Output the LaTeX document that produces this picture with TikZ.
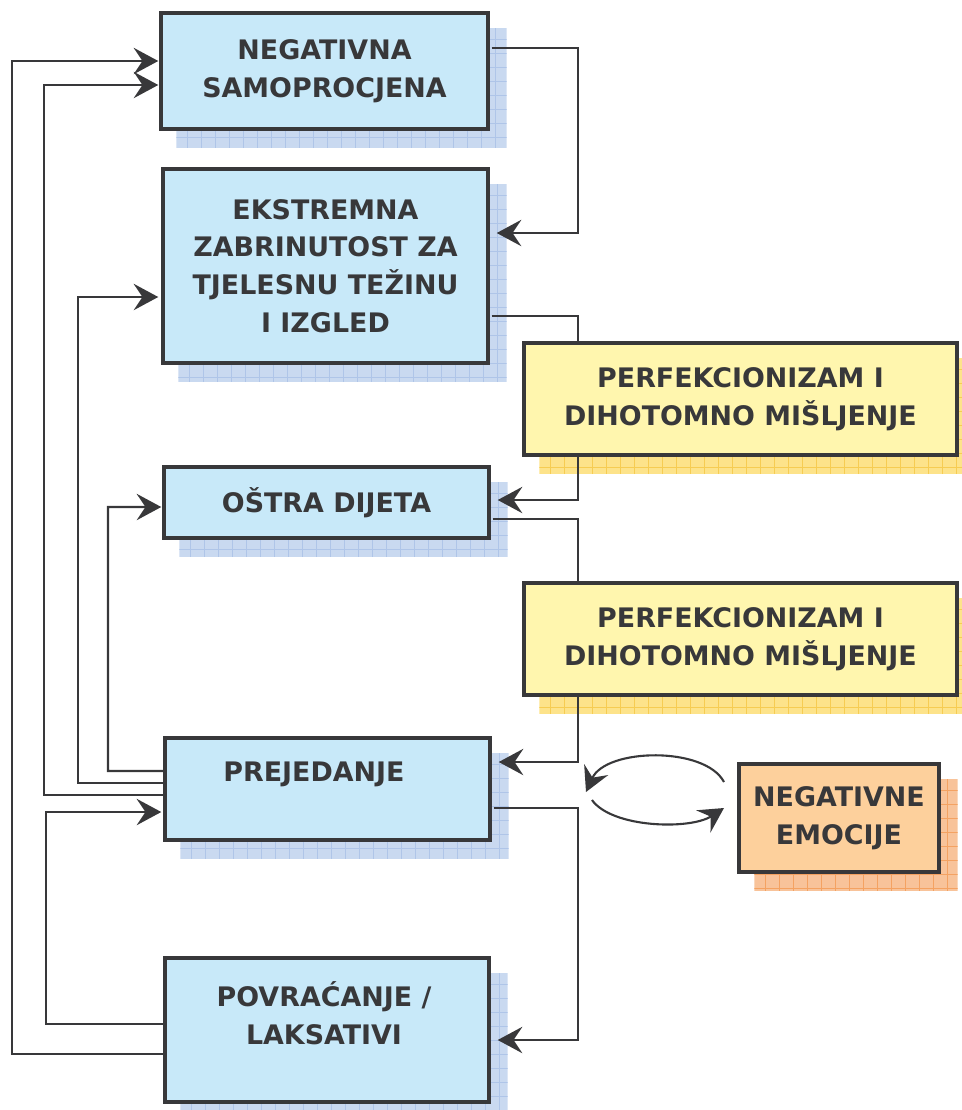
\documentclass[tikz,border=0pt]{standalone}
\usepackage{fontspec}
\setmainfont{DejaVu Sans}
\usetikzlibrary{arrows.meta,calc}
\definecolor{ink}{HTML}{38383A}
\definecolor{bluebox}{HTML}{C8E9F9}
\definecolor{blueshade}{HTML}{C9D9F0}
\definecolor{bluegrid}{HTML}{AFC5E8}
\definecolor{yellowbox}{HTML}{FFF6AE}
\definecolor{yellowshade}{HTML}{FDE38A}
\definecolor{yellowgrid}{HTML}{F6CC52}
\definecolor{orangebox}{HTML}{FDD09C}
\definecolor{orangeshade}{HTML}{F8C39A}
\definecolor{orangegrid}{HTML}{F4A262}
\pgfdeclarelayer{shade}
\pgfdeclarelayer{wires}
\pgfsetlayers{shade,wires,main}
\newcommand{\gridshade}[3]{%
	\begin{scope}
		\clip ([shift={(17,17)}]#1.north west) rectangle ([shift={(17,17)}]#1.south east);
		\fill [color=#2] ([shift={(17,17)}]#1.north west) rectangle ([shift={(17,17)}]#1.south east);
		\foreach \k in {0,14,...,476} {
			\draw [color=#3, line width=0.5pt] ([shift={(\k,0)}]#1.north west) -- ++(0,300);
			\draw [color=#3, line width=0.5pt] ([shift={(0,\k)}]#1.north west) -- ++(620,0);
		}
	\end{scope}}
\begin{document}
\begin{tikzpicture}[x=0.02cm, y=-0.02cm,
	box/.style={draw=ink, line width=2pt, fill=bluebox, align=center, text=ink,
		font=\fontsize{15.3}{21.5}\selectfont\bfseries, inner sep=0pt},
	wire/.style={draw=ink, line width=1.2pt},
	tip/.style={-{Stealth[length=14pt,width=15pt,inset=5pt]}}]
	\useasboundingbox (0,0) rectangle (962,1110);
	\node[box, minimum width=6.54cm, minimum height=2.32cm] (samo) at (324.5,71) {NEGATIVNA\\SAMOPROCJENA};
	\node[box, minimum width=6.5cm, minimum height=3.88cm] (ekst) at (325.5,266) {EKSTREMNA\\ZABRINUTOST ZA\\TJELESNU TEŽINU\\I IZGLED};
	\node[box, fill=yellowbox, minimum width=8.66cm, minimum height=2.24cm] (perfa) at (740.5,399) {PERFEKCIONIZAM I\\DIHOTOMNO MIŠLJENJE};
	\node[box, minimum width=6.5cm, minimum height=1.42cm] (dijeta) at (326.5,502.5) {OŠTRA DIJETA};
	\node[box, fill=yellowbox, minimum width=8.66cm, minimum height=2.24cm] (perfb) at (740.5,639) {PERFEKCIONIZAM I\\DIHOTOMNO MIŠLJENJE};
	\node[box, minimum width=6.5cm, minimum height=2.04cm] (prej) at (327.5,789) {};
	\node[box, draw=none, fill=none] (prejtxt) at (314,774) {PREJEDANJE};
	\node[box, fill=orangebox, minimum width=4cm, minimum height=2.16cm] (emoc) at (839,818) {NEGATIVNE\\EMOCIJE};
	\node[box, minimum width=6.48cm, minimum height=2.88cm] (povr) at (327,1030) {};
	\node[box, draw=none, fill=none] (povrtxt) at (324,1013) {POVRAĆANJE /\\LAKSATIVI};
	\begin{pgfonlayer}{shade}
		\gridshade{samo}{blueshade}{bluegrid}
		\gridshade{ekst}{blueshade}{bluegrid}
		\gridshade{dijeta}{blueshade}{bluegrid}
		\gridshade{prej}{blueshade}{bluegrid}
		\gridshade{povr}{blueshade}{bluegrid}
		\gridshade{perfa}{yellowshade}{yellowgrid}
		\gridshade{perfb}{yellowshade}{yellowgrid}
		\gridshade{emoc}{orangeshade}{orangegrid}
	\end{pgfonlayer}
	\begin{pgfonlayer}{wires}
		\coordinate (rbus) at (578,0);
		\coordinate (inekst) at ([shift={(7,-33)}]ekst.east);
		\coordinate (indijeta) at ([shift={(7,-2.5)}]dijeta.east);
		\coordinate (inprej) at ([shift={(7,-27)}]prej.east);
		\coordinate (inpovr) at ([shift={(7,10)}]povr.east);
		\draw[wire, tip] ([shift={(2,-23)}]samo.east) -| (rbus |- inekst) -- (inekst);
		\draw[wire, tip] ([shift={(2,50)}]ekst.east) -| (rbus |- indijeta) -- (indijeta);
		\draw[wire, tip] ([shift={(2,16.5)}]dijeta.east) -| (rbus |- inprej) -- (inprej);
		\draw[wire, tip] ([shift={(2,19)}]prej.east) -| (rbus |- inpovr) -- (inpovr);
		% back to the left side
		\draw[wire, tip] ([shift={(0,-18)}]prej.west) -| (108,507) -- ([shift={(-1,4.5)}]dijeta.west);
		\draw[wire, tip] ([shift={(0,-6)}]prej.west) -| (78,297) -- ([shift={(-3,31)}]ekst.west);
		\draw[wire, tip] ([shift={(0,6)}]prej.west) -| (44,85) -- ([shift={(-1,14)}]samo.west);
		\draw[wire, tip] ([shift={(0,-6)}]povr.west) -| (46,812) -- ([shift={(-2,23)}]prej.west);
		\draw[wire, tip] ([shift={(0,24)}]povr.west) -| (12,61) -- ([shift={(-1,-10)}]samo.west);
		\coordinate (loopa) at (724,782);
		\coordinate (loopb) at (586,792);
		\coordinate (loopc) at (592,800);
		\coordinate (loopd) at (724,808);
		\draw[wire, tip] (loopa) .. controls (705,746) and (606,748) .. (loopb);
		\draw[wire, tip] (loopc) .. controls (612,828) and (690,830) .. (loopd);
	\end{pgfonlayer}
\end{tikzpicture}
\end{document}
